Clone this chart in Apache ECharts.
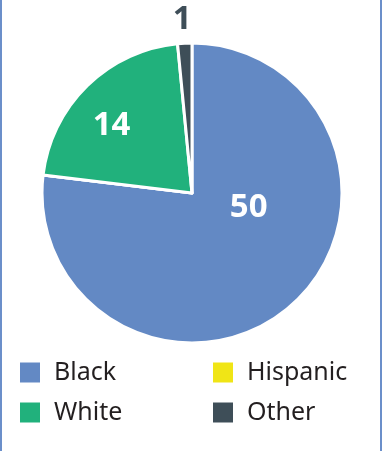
<!DOCTYPE html>
<html>
<head>
<meta charset="utf-8">
<script src="https://cdn.jsdelivr.net/npm/echarts@6/dist/echarts.min.js"></script>
<style>
  html, body { margin: 0; padding: 0; background: #fff; }
  #wrap { position: relative; width: 382px; height: 451px; }
  #chart { position: absolute; left: 0; top: 0; width: 382px; height: 451px; }
  #frame { position: absolute; left: 0; top: 0; width: 382px; height: 451px; box-sizing: border-box;
           border-left: 2px solid #6b8fca; border-right: 2px solid #6b8fca; pointer-events: none; }
</style>
</head>
<body>
<div id="wrap"><div id="chart"></div><div id="frame"></div></div>
<script>
const categories = ['Black', 'Hispanic', 'White', 'Other'];
const values = [50, 0, 14, 1];
const colors = ['#6389c4', '#f0e516', '#21b17c', '#3e4e58'];
// label nudges (px) so the numbers sit where the original put them
const labelShift = [[5, -44], [0, 0], [-26, -12], [-6, -95]];

const chartDom = document.getElementById('chart');
const myChart = echarts.init(chartDom);

const pieData = categories.map((name, i) => ({
  name: name,
  value: values[i],
  itemStyle: { color: colors[i] },
  label: {
    show: values[i] > 0,
    color: i === 3 ? '#3e4e58' : '#fff'
  }
}));

const legendBase = {
  orient: 'vertical',
  top: 360,
  padding: 0,
  itemWidth: 20,
  itemHeight: 20,
  itemGap: 15,
  icon: 'rect',
  itemStyle: { borderWidth: 0 },
  textStyle: { fontFamily: 'Noto Sans', fontSize: 25, lineHeight: 20, color: '#231f20', padding: [0, 0, 0, 9] }
};

const option = {
  animation: false,
  legend: [
    Object.assign({}, legendBase, { left: 20, data: ['Black', 'White'] }),
    Object.assign({}, legendBase, { left: 213, data: ['Hispanic', 'Other'] })
  ],
  series: [
    {
      type: 'pie',
      center: [192, 193],
      radius: 150,
      startAngle: 90,
      clockwise: true,
      avoidLabelOverlap: false,
      itemStyle: { borderColor: '#fff', borderWidth: 3 },
      label: {
        position: 'inside',
        formatter: '{c}',
        fontFamily: 'Noto Sans',
        fontWeight: 'bold',
        fontSize: 33
      },
      labelLine: { show: false },
      labelLayout: function (p) {
        const s = labelShift[p.dataIndex];
        return { dx: s[0], dy: s[1] };
      },
      emphasis: { disabled: true },
      data: pieData
    }
  ]
};

option && myChart.setOption(option);
</script>
</body>
</html>
